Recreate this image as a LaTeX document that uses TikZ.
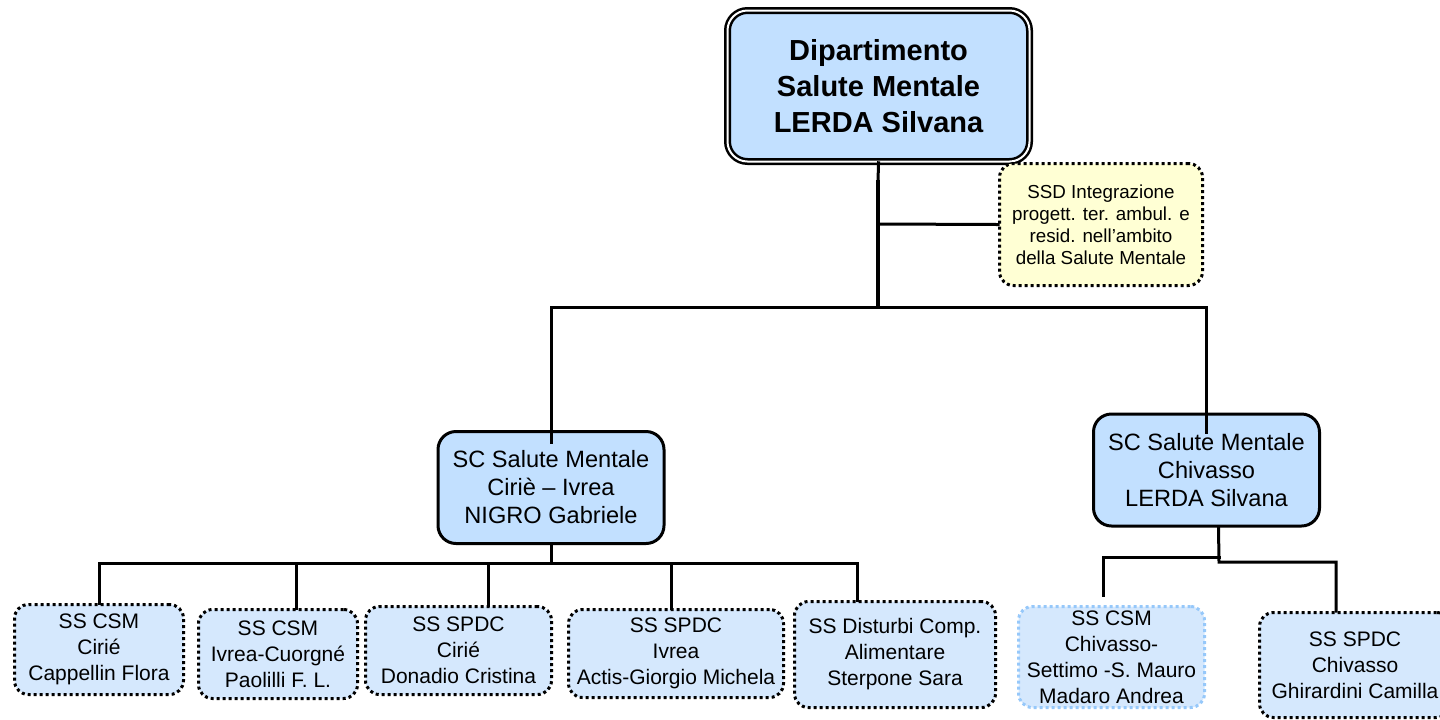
\documentclass[tikz,border=0pt]{standalone}
\usepackage{fontspec}
\setmainfont{Liberation Sans}
\definecolor{deptblue}{RGB}{194,224,255}
\definecolor{unitblue}{RGB}{213,232,253}
\definecolor{ssdyellow}{RGB}{255,255,212}
\definecolor{dotblue}{RGB}{150,200,250}

\begin{document}
\begin{tikzpicture}[x=0.5pt, y=-0.5pt,
		dept/.style={draw, double, line width=1.25pt, double distance=1pt, rounded corners=10pt, fill=deptblue, align=center, inner sep=2pt, font=\fontsize{14.5}{18}\selectfont\bfseries},
		sc/.style={draw, line width=1.5pt, rounded corners=9pt, fill=deptblue, align=center, inner sep=2pt, minimum width=113pt, minimum height=56pt, font=\fontsize{11.8}{14}\selectfont},
		ss/.style={draw, line width=1.5pt, dash pattern=on 1.5pt off 1.5pt, rounded corners=7pt, fill=unitblue, align=center, inner sep=2pt, font=\fontsize{10.5}{13}\selectfont},
		ssd/.style={ss, fill=ssdyellow, font=\fontsize{9.4}{11}\selectfont},
		conn/.style={line width=1.5pt, line cap=rect}
		]
		\useasboundingbox (0,0) rectangle (1440,719);
		
		\node[dept, minimum width=151pt, minimum height=75.5pt] (root) at (878.5, 86) {Dipartimento\\Salute Mentale\\LERDA Silvana};
		\node[ssd, minimum width=101.5pt, minimum height=61pt] (ssd) at (1101, 224.5) {SSD Integrazione\\progett. ter. ambul. e\\resid. nell’ambito\\della Salute Mentale};
		
		\node[sc] (sc1) at (551, 487.5) {SC Salute Mentale\\Ciriè – Ivrea\\NIGRO Gabriele};
		\node[sc] (sc2) at (1206.5, 470) {SC Salute Mentale\\Chivasso\\LERDA Silvana};
		
		\node[ss, minimum width=84.5pt, minimum height=45pt] (ss1) at (99, 649.5) {SS CSM\\Cirié\\Cappellin Flora};
		\node[ss, minimum width=79.5pt, minimum height=44.5pt] (ss2) at (278, 654) {SS CSM\\Ivrea-Cuorgné\\Paolilli F. L.};
		\node[ss, minimum width=93pt, minimum height=44pt] (ss3) at (458.5, 650.5) {SS SPDC\\Cirié\\Donadio Cristina};
		\node[ss, minimum width=107.5pt, minimum height=44pt] (ss4) at (676, 653.5) {SS SPDC\\Ivrea\\Actis-Giorgio Michela};
		\node[ss, minimum width=100.5pt, minimum height=53pt] (ss5) at (895, 654.5) {SS Disturbi Comp.\\Alimentare\\Sterpone Sara};
		\node[ss, draw=dotblue, minimum width=93pt, minimum height=50.5pt] (ss6) at (1111.5, 657) {SS CSM\\Chivasso-\\Settimo -S. Mauro\\Madaro Andrea};
		\node[ss, minimum width=95.5pt, minimum height=52.5pt] (ss7) at (1355, 665) {SS SPDC\\Chivasso\\Ghirardini Camilla};
		
		% root to the two SC
		\coordinate (stem) at (878, 182);
		\coordinate (side) at (878, 224);
		\coordinate (bus) at (878, 307);
		\draw[conn] (root.south) -- (stem);
		\draw[conn, line width=2.25pt] (stem) -- (bus);
		\draw[conn] (side) -- (ssd.west);
		\draw[conn, shorten >=-6pt] (bus) -| (sc1.north);
		\draw[conn, shorten >=-10pt] (bus) -| (sc2.north);
		
		% units under sc1
		\foreach \x [count=\i] in {99,296,488,671,857} {
			\coordinate (b\i) at (\x, 563);
			\draw[conn] (b\i) -- (b\i |- ss\i.north);
		}
		\draw[conn] (sc1.south) -- (sc1.south |- b1);
		\draw[conn] (b1) -- (b5);
		
		% units under sc2
		\coordinate (hub2) at (1219, 562);
		\coordinate (hub3) at (1219, 557);
		\draw[conn] ([xshift=6pt]sc2.south) -- (hub2) -| ([xshift=-9.5pt]ss7.north);
		\draw[conn] (hub3) -| ([xshift=-4.25pt, yshift=5pt]ss6.north);
\end{tikzpicture}
\end{document}
